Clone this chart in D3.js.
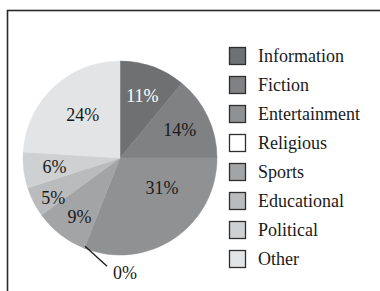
<!DOCTYPE html>
<html>
<head>
<meta charset="utf-8">
<script src="https://cdn.jsdelivr.net/npm/d3@7"></script>
<style>
  body { margin: 0; background: #fff; }
  text { font-family: "Liberation Serif", "DejaVu Serif", serif; }
</style>
</head>
<body>
<div id="chart"></div>
<script>
var categories = ["Information", "Fiction", "Entertainment", "Religious", "Sports", "Educational", "Political", "Other"];
var values = [11, 14, 31, 0, 9, 5, 6, 24];
var colours = ["#6f7072", "#808183", "#909193", "#ffffff", "#a3a4a6", "#babbbd", "#cfd0d2", "#e3e4e6"];

var W = 380, H = 291;
var cx = 120, cy = 158, r = 97;

// hand-placed label nudges, like the original
var nudge = {
  "Entertainment": [5, -25],
  "Sports": [0, 7],
  "Educational": [-8, 10],
  "Other": [8, 5]
};

var svg = d3.select("#chart").append("svg")
  .attr("width", W)
  .attr("height", H);

// frame
svg.append("rect")
  .attr("x", 7.5).attr("y", 10.5)
  .attr("width", W + 20).attr("height", H + 20)
  .attr("fill", "none")
  .attr("stroke", "#2a2a2a")
  .attr("stroke-width", 1.6);

var data = categories.map(function(c, i) {
  return { name: c, value: values[i], colour: colours[i] };
});

var pie = d3.pie().sort(null).value(function(d) { return d.value; });
var arcs = pie(data);

var arc = d3.arc().innerRadius(0).outerRadius(r);
var labelArc = d3.arc().innerRadius(66).outerRadius(66);

var g = svg.append("g").attr("transform", "translate(" + cx + "," + cy + ")");

g.selectAll("path.slice")
  .data(arcs.filter(function(d) { return d.data.value > 0; }))
  .enter().append("path")
  .attr("class", "slice")
  .attr("d", arc)
  .attr("fill", function(d) { return d.data.colour; })
  .attr("stroke", function(d) { return d.data.colour; })
  .attr("stroke-width", 0.5);

g.selectAll("text.pct")
  .data(arcs.filter(function(d) { return d.data.value > 0; }))
  .enter().append("text")
  .attr("class", "pct")
  .attr("transform", function(d) {
    var c = labelArc.centroid(d);
    var n = nudge[d.data.name] || [0, 0];
    return "translate(" + (c[0] + n[0]) + "," + (c[1] + n[1]) + ")";
  })
  .attr("text-anchor", "middle")
  .attr("dy", "0.35em")
  .attr("font-size", 18)
  .attr("fill", function(d, i) { return d.data.name === "Information" ? "#ffffff" : "#1a1a1a"; })
  .text(function(d) { return d.data.value + "%"; });

// zero slice gets a leader line
arcs.filter(function(d) { return d.data.value === 0; }).forEach(function(d) {
  var a = d.startAngle;
  var x0 = Math.sin(a) * (r - 2), y0 = -Math.cos(a) * (r - 2);
  var x1 = x0 + 22, y1 = y0 + 20;
  g.append("line")
    .attr("x1", x0).attr("y1", y0)
    .attr("x2", x1).attr("y2", y1)
    .attr("stroke", "#1a1a1a")
    .attr("stroke-width", 1.3);
  g.append("text")
    .attr("x", x1 + 6).attr("y", y1 + 6)
    .attr("dy", "0.35em")
    .attr("font-size", 18)
    .attr("fill", "#1a1a1a")
    .text(d.data.value + "%");
});

// legend
var y = d3.scalePoint().domain(categories).range([56, 259]);

var legend = svg.append("g").attr("class", "legend");
var item = legend.selectAll("g")
  .data(data)
  .enter().append("g")
  .attr("transform", function(d) { return "translate(0," + y(d.name) + ")"; });

item.append("rect")
  .attr("x", 229.5).attr("y", -8.5)
  .attr("width", 16).attr("height", 17)
  .attr("fill", function(d) { return d.colour; })
  .attr("stroke", "#2e2e2e")
  .attr("stroke-width", 1.3);

item.append("text")
  .attr("x", 258)
  .attr("dy", "0.35em")
  .attr("font-size", 18)
  .attr("fill", "#1a1a1a")
  .text(function(d) { return d.name; });
</script>
</body>
</html>
